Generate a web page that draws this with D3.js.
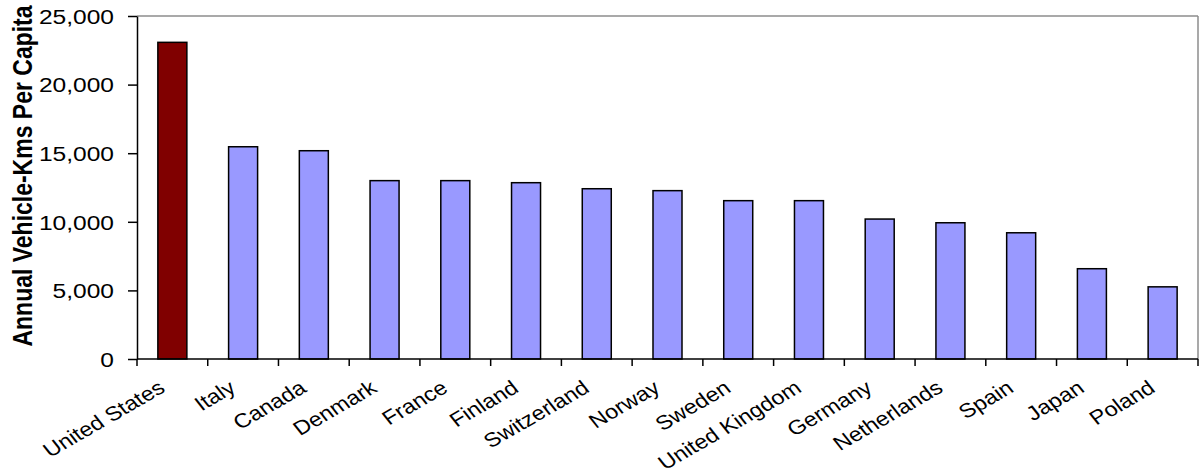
<!DOCTYPE html>
<html>
<head>
<meta charset="utf-8">
<script src="https://cdn.jsdelivr.net/npm/d3@7"></script>
<style>
  html, body { margin: 0; padding: 0; background: #fff; }
  svg { display: block; }
  text { font-family: "Liberation Sans", Arial, sans-serif; fill: #000; }
</style>
</head>
<body>
<svg id="chart" width="1201" height="470"></svg>
<script>
const categories = ["United States","Italy","Canada","Denmark","France","Finland","Switzerland","Norway","Sweden","United Kingdom","Germany","Netherlands","Spain","Japan","Poland"];
const values = [23080, 15470, 15180, 13000, 13000, 12850, 12410, 12270, 11540, 11540, 10200, 9930, 9200, 6580, 5260];
const highlight = ["United States"];
const yTicks = [0, 5000, 10000, 15000, 20000, 25000];
const yTitle = "Annual Vehicle-Kms Per Capita";

(function () {
const svg = d3.select("#chart");
const pl = 137, pr = 1198, pt = 16, pb = 359;
const sx = 1.17; // horizontal text stretch of the original picture

const x = d3.scaleBand().domain(categories).range([pl, pr]).paddingInner(0.59).paddingOuter(0.295);
const y = d3.scaleLinear().domain([0, 25000]).range([pb, pt]);

// plot border (top and right, grey)
svg.append("line").attr("x1", pl).attr("x2", pr).attr("y1", pt).attr("y2", pt)
  .attr("stroke", "#8c8c8c").attr("stroke-width", 1.5);
svg.append("line").attr("x1", pr).attr("x2", pr).attr("y1", pt).attr("y2", pb)
  .attr("stroke", "#8c8c8c").attr("stroke-width", 1.5);

// bars
svg.append("g").selectAll("rect").data(categories).join("rect")
  .attr("x", d => x(d))
  .attr("y", (d, i) => y(values[i]))
  .attr("width", x.bandwidth())
  .attr("height", (d, i) => y(0) - y(values[i]))
  .attr("fill", d => highlight.includes(d) ? "#800000" : "#9999FF")
  .attr("stroke", "#000").attr("stroke-width", 1.5);

// y axis
const yAxis = svg.append("g").attr("transform", `translate(${pl},0)`)
  .call(d3.axisLeft(y).tickValues(yTicks).tickFormat(d3.format(",")).tickSize(9).tickSizeOuter(0));
yAxis.select(".domain").attr("stroke", "#000").attr("stroke-width", 1.5);
yAxis.selectAll(".tick line").attr("stroke", "#000").attr("stroke-width", 1.5);
yAxis.selectAll(".tick text")
  .attr("x", 0).attr("dy", "0.35em")
  .attr("transform", `translate(-23,0) scale(${sx},1)`)
  .style("font-size", "21px").style("font-family", '"Liberation Sans", Arial, sans-serif')
  .attr("fill", "#000");

// x axis line + boundary ticks
const xg = svg.append("g");
xg.append("line").attr("x1", pl).attr("x2", pr).attr("y1", pb).attr("y2", pb)
  .attr("stroke", "#000").attr("stroke-width", 1.5);
const bounds = d3.range(categories.length + 1).map(i => pl + i * x.step());
xg.selectAll("line.tk").data(bounds).join("line").attr("class", "tk")
  .attr("x1", d => d).attr("x2", d => d).attr("y1", pb).attr("y2", pb + 7)
  .attr("stroke", "#000").attr("stroke-width", 1.5);

// category labels
xg.selectAll("text").data(categories).join("text")
  .attr("text-anchor", "end")
  .attr("transform", d => `translate(${x(d) + x.bandwidth() / 2 - 6},${pb + 32}) scale(${sx},1) rotate(-34)`)
  .style("font-size", "20px")
  .text(d => d);

// y title
svg.append("text")
  .attr("text-anchor", "middle")
  .attr("transform", `translate(32,176) scale(${sx},1) rotate(-90)`)
  .style("font-size", "23px").style("font-weight", "bold")
  .text(yTitle);
})();
</script>
</body>
</html>
